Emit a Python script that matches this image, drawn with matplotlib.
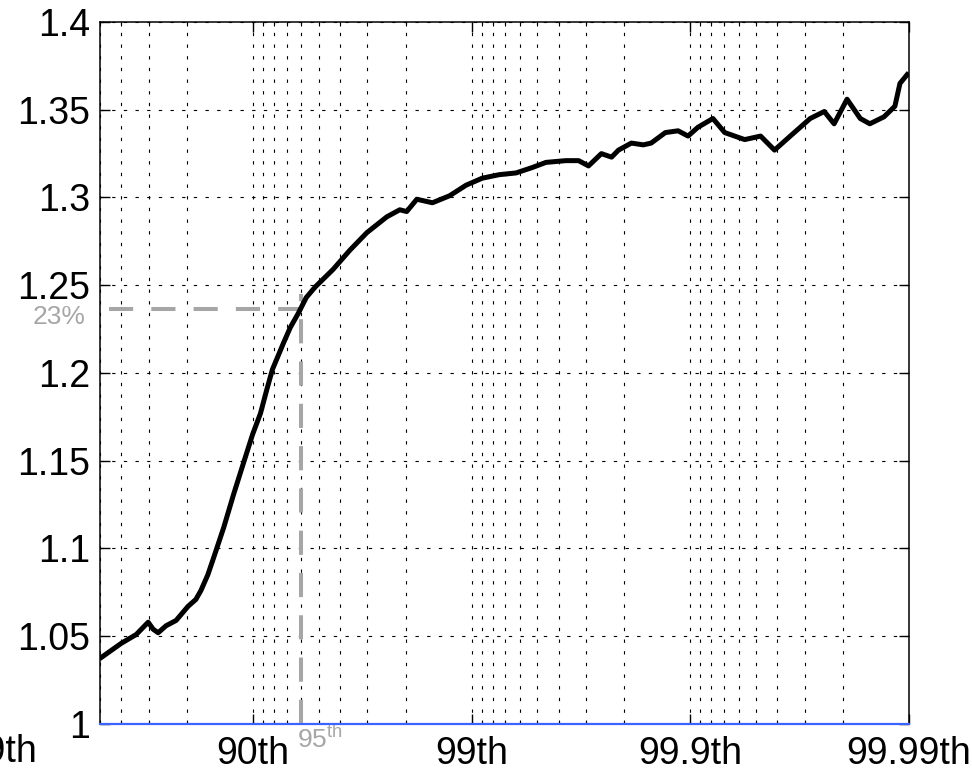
import matplotlib
matplotlib.use('Agg')
import matplotlib.pyplot as plt
import matplotlib.transforms as mtransforms
import numpy as np

plt.rcParams['font.family'] = ['Liberation Sans', 'DejaVu Sans']
plt.rcParams['mathtext.fontset'] = 'custom'
plt.rcParams['mathtext.rm'] = 'Liberation Sans'

# percentil (eje x) y valor de la curva (eje y)
percentil = [50.8, 55.67, 60.06, 65.86, 69.89, 71.43, 72.89, 75.07, 77.55, 80.20,
             81.78, 82.71, 83.93, 84.91, 86.41, 87.76, 88.98, 89.97, 90.77, 91.34,
             91.86, 92.75, 93.26, 93.80, 94.30, 94.81, 95.70, 96.40, 96.99, 97.56,
             97.87, 98.02, 98.22, 98.49, 98.74, 98.94, 99.106, 99.252, 99.374, 99.470,
             99.543, 99.629, 99.676, 99.708, 99.745, 99.771, 99.787, 99.814, 99.836, 99.849,
             99.870, 99.8863, 99.8976, 99.9077, 99.9212, 99.9304, 99.9436, 99.9523, 99.9588, 99.9651,
             99.9717, 99.9756, 99.9780, 99.9808, 99.9833, 99.9849, 99.9870, 99.9884, 99.9890, 99.9898]
valor = [1.038, 1.042, 1.046, 1.051, 1.058, 1.054, 1.052, 1.056, 1.059, 1.067,
         1.071, 1.076, 1.085, 1.095, 1.112, 1.131, 1.149, 1.165, 1.177, 1.190,
         1.202, 1.217, 1.226, 1.234, 1.243, 1.249, 1.259, 1.270, 1.280, 1.289,
         1.293, 1.292, 1.299, 1.297, 1.301, 1.307, 1.311, 1.313, 1.314, 1.317,
         1.320, 1.321, 1.321, 1.318, 1.325, 1.323, 1.327, 1.331, 1.330, 1.331,
         1.337, 1.338, 1.335, 1.340, 1.345, 1.337, 1.333, 1.335, 1.327, 1.335,
         1.345, 1.349, 1.342, 1.356, 1.345, 1.342, 1.346, 1.352, 1.365, 1.370]

ticks_pct = [90, 99, 99.9, 99.99]
ticks_lab = ['90th', '99th', '99.9th', '99.99th']
yticks = [1, 1.05, 1.1, 1.15, 1.2, 1.25, 1.3, 1.35, 1.4]
ylabs = ['1', '1.05', '1.1', '1.15', '1.2', '1.25', '1.3', '1.35', '1.4']

marca_pct = 93.99       # linea gris vertical
marca_val = 1.2365      # linea gris horizontal
marca_inicio = 54.7     # inicio de la linea horizontal
marca_tope = 1.245
base = 1.0
gris = '#a6a6a6'


def cola(p):
    return 1 - np.asarray(p) / 100.0


fig = plt.figure(figsize=(9.72, 7.73), dpi=100)
ax = fig.add_axes([100 / 972, 1 - 724 / 773, 809 / 972, 702 / 773])

ax.set_xscale('log')
ax.set_xlim(0.5, 1e-4)
ax.set_ylim(1, 1.4)

punteado = (0, (3, 7.5))
ax.grid(True, which='major', axis='both', color='k', lw=0.8, linestyle=punteado)
ax.grid(True, which='minor', axis='x', color='k', lw=0.8, linestyle=punteado)

ax.plot(cola([marca_inicio, marca_pct]), [marca_val, marca_val], color=gris, lw=2.9,
        dashes=(6, 4.5), zorder=3)
ax.plot(cola([marca_pct, marca_pct]), [base, marca_tope], color=gris, lw=2.9,
        dashes=(6, 4.5), zorder=3)

ax.plot(cola(percentil), valor, color='k', lw=3.6, zorder=4, solid_joinstyle='round')
ax.axhline(base, color='#3a64ff', lw=1.6, zorder=5, clip_on=False)

ax.set_xticks(cola(ticks_pct))
ax.set_xticklabels(ticks_lab)
ax.set_yticks(yticks)
ax.set_yticklabels(ylabs)
ax.tick_params(which='major', direction='in', length=7, width=1, labelsize=27,
               top=True, right=True, pad=7)
ax.tick_params(axis='x', which='major', pad=9)
ax.tick_params(which='minor', direction='in', length=3, width=0.8, top=True)
for s in ax.spines.values():
    s.set_linewidth(1.1)

# etiquetas grises
trans = mtransforms.blended_transform_factory(ax.transAxes, ax.transData)
ax.text(-15 / 809, marca_val - 0.0047, '23%', transform=trans, ha='right', va='center',
        fontsize=19, color=gris, clip_on=False)
ax.annotate(r'95$^{\mathrm{th}}$', xy=(cola(marca_pct), 0), xycoords=('data', 'axes fraction'),
            xytext=(-3, -1), textcoords='offset points', ha='left', va='top',
            fontsize=19, color=gris, annotation_clip=False)

# etiqueta cortada del panel vecino
fig.text(37 / 972, 1 - 752 / 773, '99.99th', ha='right', va='center', fontsize=27)

fig.savefig('out.png', dpi=100)
